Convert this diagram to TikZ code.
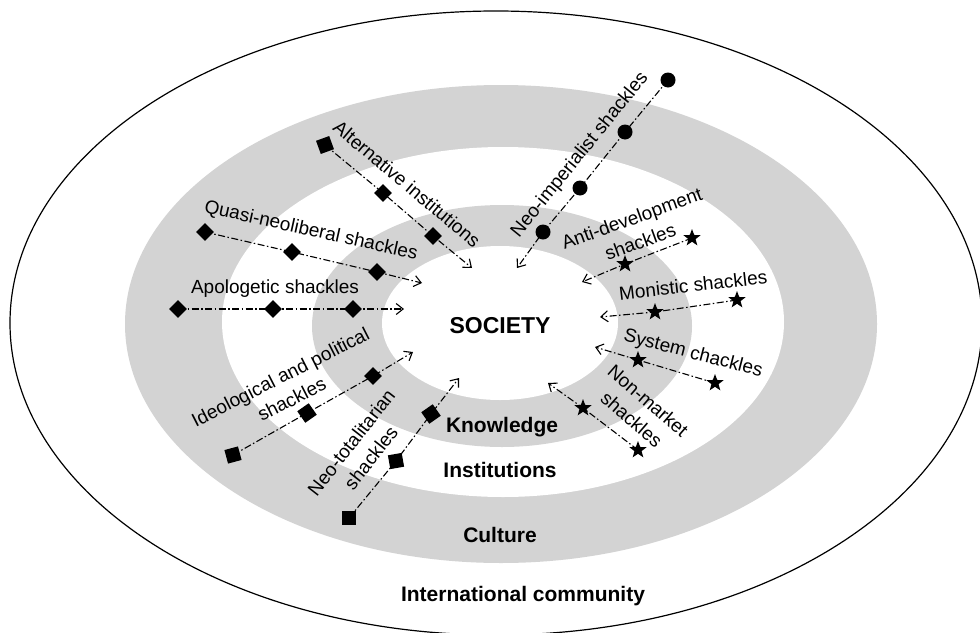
\documentclass[tikz,border=0pt]{standalone}
\usepackage{fontspec}
\setmainfont{Liberation Sans}
\usetikzlibrary{arrows.meta,shapes.geometric}
\definecolor{ringgray}{RGB}{211,211,211}
\begin{document}
\begin{tikzpicture}[x=1pt,y=-1pt,
  lbl/.style={font=\fontsize{19}{25}\selectfont, inner sep=0pt, align=center},
  blbl/.style={font=\bfseries\fontsize{21}{25}\selectfont, inner sep=0pt, anchor=base},
  shk/.style={line width=1.1pt, dash pattern=on 7pt off 2.5pt on 1.5pt off 2.5pt,
              -{Straight Barb[length=7pt,width=11pt]}},
  dmk/.style={diamond, fill=black, minimum size=18pt, inner sep=0pt},
  sqk/.style={rectangle, fill=black, minimum size=14pt, inner sep=0pt},
  cmk/.style={circle, fill=black, minimum size=15pt, inner sep=0pt},
  smk/.style={star, star points=5, star point ratio=2.4, fill=black, minimum size=18pt, inner sep=0pt},
]
\useasboundingbox (0,0) rectangle (980,632);
% rings
\draw[line width=1.2pt, fill=white] (496,323) ellipse [x radius=486pt, y radius=312pt];
\fill[ringgray] (501,324) ellipse [x radius=376pt, y radius=239pt];
\fill[white] (503,322) ellipse [x radius=281pt, y radius=175pt];
\fill[ringgray] (502,326) ellipse [x radius=190pt, y radius=121pt];
\fill[white] (500,323) ellipse [x radius=118pt, y radius=77pt];

% ring labels
\node[blbl, font=\bfseries\fontsize{23}{27}\selectfont] (soc) at (500,333) {SOCIETY};
\node[blbl] (know) at (502,432) {Knowledge};
\node[blbl] (inst) at (500,477) {Institutions};
\node[blbl] (cult) at (500,542) {Culture};
\node[blbl] (intl) at (523,601) {International community};

% Apologetic shackles
\node[dmk] (a1) at (178,309) {};
\node[dmk] (a2) at (273,309) {};
\node[dmk] (a3) at (353,309) {};
\coordinate (aT) at (404,309);
\draw[shk] (a1.center) -- (a2.center) -- (a3.center) -- (aT);
\node[lbl] (aL) at (275,289) {Apologetic shackles};

% Quasi-neoliberal shackles
\node[dmk] (q1) at (205,232) {};
\node[dmk] (q2) at (292,252) {};
\node[dmk] (q3) at (377,272) {};
\coordinate (qT) at (422,283);
\draw[shk] (q1.center) -- (q2.center) -- (q3.center) -- (qT);
\node[lbl, rotate=-12.5] (qL) at (311,231) {Quasi-neoliberal shackles};

% Alternative institutions
\node[sqk, rotate=20] (c1) at (325,145) {};
\node[dmk] (c2) at (383,193) {};
\node[dmk] (c3) at (433,236) {};
\coordinate (cT) at (472,268);
\draw[shk] (c1.center) -- (c2.center) -- (c3.center) -- (cT);
\node[lbl, rotate=-40] (cL) at (407,184) {Alternative institutions};

% Neo-imperialist shackles
\node[cmk] (n1) at (668,80) {};
\node[cmk] (n2) at (625,132) {};
\node[cmk] (n3) at (580,188) {};
\node[cmk] (n4) at (543,232) {};
\coordinate (nT) at (517,268);
\draw[shk] (n1.center) -- (n2.center) -- (n3.center) -- (n4.center) -- (nT);
\node[lbl, rotate=51] (nL) at (580,155) {Neo-imperialist shackles};

% Anti-development shackles
\node[smk] (e1) at (692,238) {};
\node[smk] (e2) at (625,264) {};
\coordinate (eT) at (582,282);
\draw[shk] (e1.center) -- (e2.center) -- (eT);
\node[lbl, rotate=20] (eL) at (636,230) {Anti-development\\shackles};

% Monistic shackles
\node[smk] (f1) at (737,300) {};
\node[smk] (f2) at (655,312) {};
\coordinate (fT) at (600,317);
\draw[shk] (f1.center) -- (f2.center) -- (fT);
\node[lbl, rotate=6.5] (fL) at (693,285) {Monistic shackles};

% System chackles
\node[smk] (g1) at (715,383) {};
\node[smk] (g2) at (638,360) {};
\coordinate (gT) at (595,347);
\draw[shk] (g1.center) -- (g2.center) -- (gT);
\node[lbl, rotate=-14.5] (gL) at (693,354) {System chackles};

% Non-market shackles
\node[smk] (h1) at (638,450) {};
\node[smk] (h2) at (583,408) {};
\coordinate (hT) at (548,383);
\draw[shk] (h1.center) -- (h2.center) -- (hT);
\node[lbl, rotate=-41] (hL) at (640,410) {Non-market\\shackles};

% Neo-totalitarian shackles
\node[sqk] (t1) at (349,518) {};
\node[sqk, rotate=10] (t2) at (396,461) {};
\node[sqk, rotate=35] (t3) at (431,414) {};
\coordinate (tT) at (459,378);
\draw[shk] (t1.center) -- (t2.center) -- (t3.center) -- (tT);
\node[lbl, rotate=52] (tL) at (361,450) {Neo-totalitarian\\shackles};

% Ideological and political shackles
\node[sqk, rotate=15] (i1) at (233,455) {};
\node[sqk, rotate=35] (i2) at (307,413) {};
\node[dmk] (i3) at (373,376) {};
\coordinate (iT) at (413,352);
\draw[shk] (i1.center) -- (i2.center) -- (i3.center) -- (iT);
\node[lbl, rotate=27] (iL) at (286,388) {Ideological and political\\shackles};
\end{tikzpicture}
\end{document}
